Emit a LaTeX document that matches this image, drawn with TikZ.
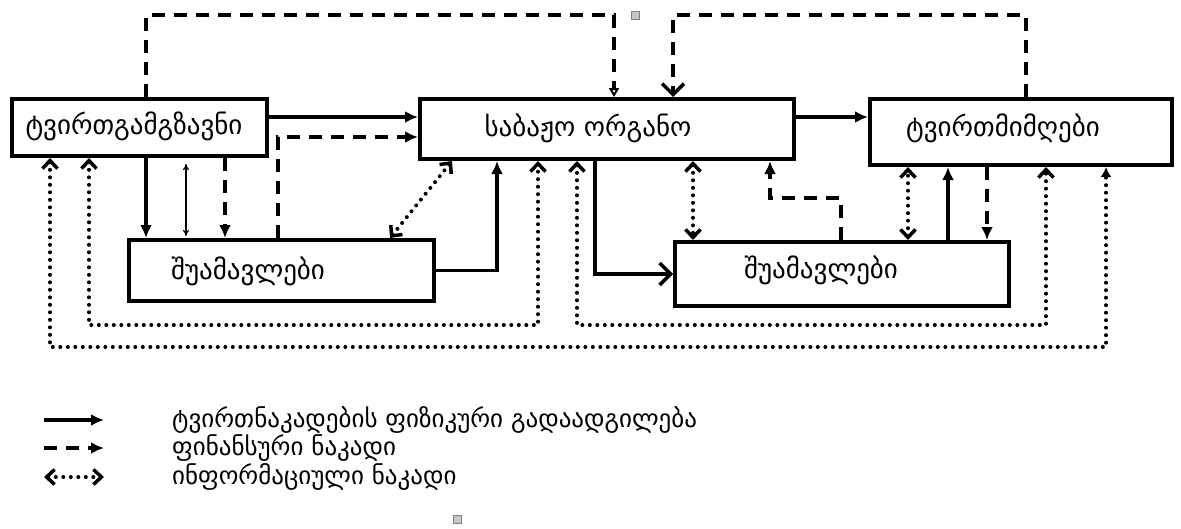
\documentclass[tikz,border=0pt]{standalone}
\usepackage{fontspec}
\newfontfamily\geo{DejaVu Sans}
\usetikzlibrary{arrows.meta,calc}
\begin{document}
\begin{tikzpicture}[x=1pt,y=-1pt,
  box/.style={draw, line width=4pt, rectangle, anchor=north west, inner sep=0pt},
  lbl/.style={font=\geo\fontsize{27}{30}\selectfont, inner sep=0pt},
  legtxt/.style={font=\geo\fontsize{25}{28}\selectfont, inner sep=0pt, anchor=west},
  phys/.style={line width=3.5pt, -{Latex[length=13pt,width=12pt]}},
  fin/.style={line width=3.5pt, dash pattern=on 13pt off 9pt},
  ftip/.style={-{Latex[length=13pt,width=12pt]}},
  info/.style={line width=4pt, dash pattern=on 0pt off 7.5pt, line cap=round},
  chev/.tip={Straight Barb[length=8pt,width=15pt,line width=3.5pt]},
  ftri/.tip={Latex[length=10pt,width=11pt]},
  bigv/.tip={Straight Barb[length=11pt,width=22pt,line width=3.5pt]},
  thinarr/.style={line width=1.2pt, {To[length=6pt,width=6pt]}-{To[length=6pt,width=6pt]}, shorten <=6pt, shorten >=2pt}
]
\path[use as bounding box] (0,0) rectangle (1181,528);

% boxes
\node[box, minimum width=255pt, minimum height=57pt] (b1) at (10,97) {};
\node[box, minimum width=374pt, minimum height=60pt] (b2) at (418,97) {};
\node[box, minimum width=302pt, minimum height=66pt] (b3) at (868,97) {};
\node[box, minimum width=305pt, minimum height=61pt] (b4) at (127,238) {};
\node[box, minimum width=334pt, minimum height=64pt] (b5) at (673,240) {};

\node[lbl] (t1) at (134,126) {ტვირთგამგზავნი};
\node[lbl] (t2) at (588,128) {საბაჟო ორგანო};
\node[lbl] (t3) at (1003,128) {ტვირთმიმღები};
\node[lbl] (t4) at (248,271) {შუამავლები};
\node[lbl] (t5) at (821,270) {შუამავლები};

% top dashed loops
\coordinate (a1) at ([xshift=136pt]b1.north west);
\coordinate (tA) at (614,15);
\draw[fin, -{Triangle[open,length=9pt,width=10pt,line width=2pt]}] (a1) |- (tA) -- (tA |- b2.north);
\coordinate (a2) at ([xshift=158pt]b3.north west);
\coordinate (tB) at (673,15);
\draw[fin, -bigv] (a2) |- (tB) -- (tB |- b2.north);
\node[draw=gray, fill=gray!45, line width=0.6pt, minimum size=8pt, inner sep=0pt] (sq1) at (635,15) {};

% sender -> customs
\draw[phys] ([yshift=-20pt]b1.north east) -- ([yshift=-20pt]b2.north west);
\coordinate (c1) at ([xshift=151pt]b4.north west);
\draw[fin, ftip] (c1) |- ([yshift=-40pt]b2.north west);

% sender -> intermediaries
\draw[phys] ([xshift=136pt]b1.south west) -- ([xshift=19pt]b4.north west);
\draw[thinarr] ([xshift=176pt]b1.south west) -- ([xshift=59pt]b4.north west);
\draw[fin, ftip] ([xshift=215pt]b1.south west) -- ([xshift=98pt]b4.north west);

% dotted loops
\coordinate (oy) at (0,347);
\coordinate (iy) at (0,325);
\coordinate (o1) at ([xshift=40pt]b1.south west);
\coordinate (o2) at ([xshift=238pt]b3.south west);
\draw[info, chev-ftri] (o1) -- (o1 |- oy) -- (o2 |- oy) -- (o2);
\coordinate (i1) at ([xshift=79pt]b1.south west);
\coordinate (i2) at ([xshift=120pt]b2.south west);
\draw[info, chev-chev] (i1) -- (i1 |- iy) -- (i2 |- iy) -- (i2);
\coordinate (i3) at ([xshift=159pt]b2.south west);
\coordinate (i4) at ([xshift=178pt]b3.south west);
\draw[info, chev-chev] (i3) -- (i3 |- iy) -- (i4 |- iy) -- (i4);

% left intermediaries <-> customs
\draw[info, chev-chev] ([xshift=263pt]b4.north west) -- ([xshift=34pt]b2.south west);
\draw[phys] (b4.east) -| ([xshift=79pt]b2.south west);

% customs -> right intermediaries
\draw[line width=3.5pt, -bigv] ([xshift=177pt]b2.south west) |- (b5.west);
\draw[info, chev-chev] ([xshift=275pt]b2.south west) -- ([xshift=20pt]b5.north west);
\coordinate (d1) at ([xshift=168pt]b5.north west);
\coordinate (d2) at ([xshift=352pt]b2.south west);
\coordinate (dy) at (0,198);
\draw[fin, ftip] (d1) -- (d1 |- dy) -- (d2 |- dy) -- (d2);

% customs -> receiver
\draw[phys] ([yshift=-20pt]b2.north east) -- ([yshift=-20pt]b3.north west);

% right intermediaries <-> receiver
\draw[info, chev-chev] ([xshift=235pt]b5.north west) -- ([xshift=40pt]b3.south west);
\draw[phys] ([xshift=275pt]b5.north west) -- ([xshift=80pt]b3.south west);
\draw[fin, ftip] ([xshift=119pt]b3.south west) -- ([xshift=314pt]b5.north west);

% legend
\coordinate (l1s) at (44,420); \coordinate (l1e) at (104,420);
\coordinate (l2s) at (44,448); \coordinate (l2e) at (104,448);
\coordinate (l3s) at (44,477); \coordinate (l3e) at (104,477);
\draw[phys] (l1s) -- (l1e);
\draw[fin, ftip] (l2s) -- (l2e);
\draw[info, chev-chev] (l3s) -- (l3e);
\node[legtxt] (L1) at (172,420) {ტვირთნაკადების ფიზიკური გადაადგილება};
\node[legtxt] (L2) at (172,448) {ფინანსური ნაკადი};
\node[legtxt] (L3) at (172,477) {ინფორმაციული ნაკადი};
\node[draw=gray, fill=gray!45, line width=0.6pt, minimum size=8pt, inner sep=0pt] (sq2) at (457,519) {};
\end{tikzpicture}
\end{document}
